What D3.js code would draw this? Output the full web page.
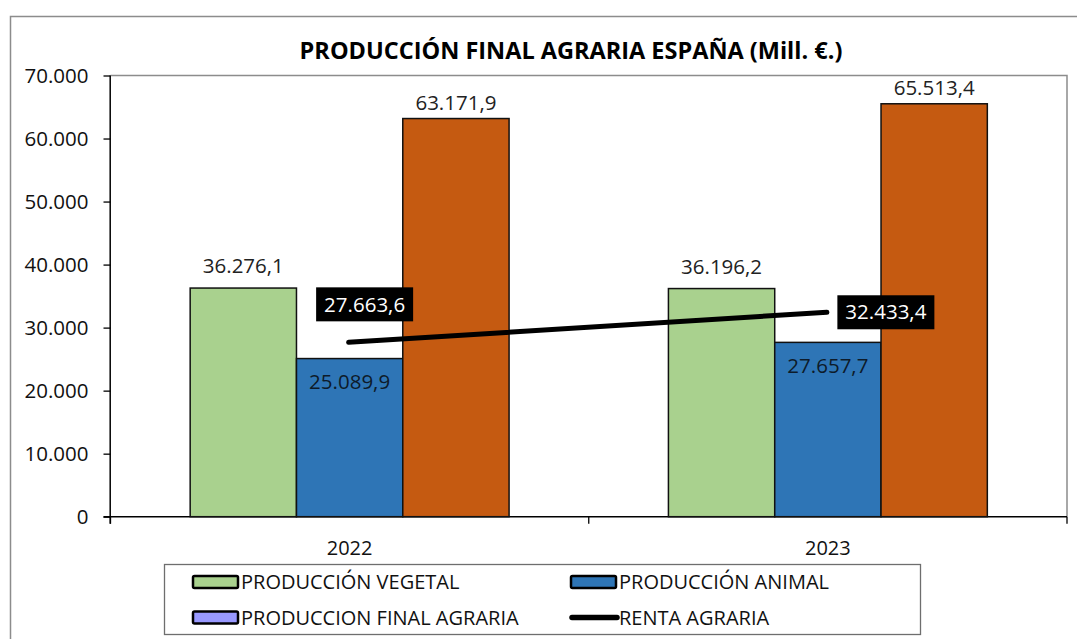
<!DOCTYPE html>
<html>
<head>
<meta charset="utf-8">
<script src="https://cdn.jsdelivr.net/npm/d3@7"></script>
<style>
  body { margin: 0; background: #fff; }
  svg { display: block; }
</style>
</head>
<body>
<div id="chart"></div>
<script>
// data
const years = ['2022', '2023'];
const seriesNames = ['PRODUCCIÓN VEGETAL', 'PRODUCCIÓN ANIMAL', 'PRODUCCION FINAL AGRARIA'];
const vegetal = [36276.1, 36196.2];
const animal = [25089.9, 27657.7];
const finalAgraria = [63171.9, 65513.4];
const renta = [27663.6, 32433.4];
const yTicks = [0, 10000, 20000, 30000, 40000, 50000, 60000, 70000];

const width = 1077, height = 639;
const margin = {top: 75.5, right: 10, bottom: 122.5, left: 110.5};
const barColors = ['#A9D18E', '#2E75B6', '#C55A11'];
const legendPFA = '#9999FF';

const fmt = v => {
  const parts = v.toFixed(1).split('.');
  return parts[0].replace(/\B(?=(\d{3})+(?!\d))/g, '.') + ',' + parts[1];
};
const fmtTick = v => String(v).replace(/\B(?=(\d{3})+(?!\d))/g, '.');

const font = '"Open Sans", "Noto Sans", sans-serif';

const svg = d3.select('#chart').append('svg')
  .attr('width', width)
  .attr('height', height);

// chart frame (outer border)
svg.append('path')
  .attr('d', `M10.5,${height} V16.5 H${width}`)
  .style('fill', 'none')
  .style('stroke', '#8c8c8c')
  .style('stroke-width', 1.5);

const x0 = d3.scaleBand()
  .domain(years)
  .range([margin.left, width - margin.right]);

const barW = 106.3;
const y = d3.scaleLinear()
  .domain([0, 70000])
  .range([height - margin.bottom + 0.2, margin.top]);

// plot area top/right edges
svg.append('path')
  .attr('d', `M${margin.left},${margin.top} H${width - margin.right} V${y(0)}`)
  .style('fill', 'none')
  .style('stroke', '#8c8c8c')
  .style('stroke-width', 1.5);

// y axis
const yAxis = d3.axisLeft(y)
  .tickValues(yTicks)
  .tickFormat(fmtTick)
  .tickSize(7)
  .tickPadding(15);

const yg = svg.append('g')
  .attr('transform', `translate(${margin.left},0)`)
  .call(yAxis);
yg.select('.domain').attr('d', `M-0.3,${y(70000)}V${y(0) + 7}`).style('stroke', '#000').style('stroke-width', 1.5);
yg.selectAll('.tick line').style('stroke', '#000').style('stroke-width', 1.3);
yg.selectAll('.tick text')
  .style('font-family', font)
  .style('font-size', '20.5px')
  .style('fill', '#111');

// x axis
const xg = svg.append('g')
  .attr('transform', `translate(0,${y(0)})`);
xg.append('line')
  .attr('x1', margin.left - 7).attr('x2', width - margin.right)
  .style('stroke', '#000')
  .style('stroke-width', 1.5);
const boundaries = [margin.left, ...years.map(d => x0(d) + x0.bandwidth())];
xg.selectAll('.xtick')
  .data(boundaries)
  .enter().append('line')
  .attr('x1', d => d).attr('x2', d => d)
  .attr('y1', 0).attr('y2', 7)
  .style('stroke', '#000')
  .style('stroke-width', 1.3);
xg.selectAll('.xlab')
  .data(years)
  .enter().append('text')
  .attr('x', d => x0(d) + x0.bandwidth() / 2)
  .attr('y', 31)
  .attr('dy', '0.35em')
  .attr('text-anchor', 'middle')
  .style('font-family', font)
  .style('font-size', '20px')
  .style('fill', '#111')
  .text(d => d);

// bars
const x1 = d3.scaleBand()
  .domain(d3.range(3))
  .range([-1.5 * barW, 1.5 * barW]);

const barData = [vegetal, animal, finalAgraria];
const groups = svg.selectAll('.grp')
  .data(years)
  .enter().append('g')
  .attr('transform', d => `translate(${x0(d) + x0.bandwidth() / 2},0)`);

groups.selectAll('rect')
  .data((d, i) => barData.map((s, k) => ({k, v: s[i]})))
  .enter().append('rect')
  .attr('x', d => x1(d.k))
  .attr('width', x1.bandwidth())
  .attr('y', d => y(d.v))
  .attr('height', d => y(0) - y(d.v))
  .style('fill', d => barColors[d.k])
  .style('stroke', '#111')
  .style('stroke-width', 1.5);

// bar value labels: vegetal / final above, animal inside end
const labelShift = [-22, 23, -16];
groups.selectAll('.vlab')
  .data((d, i) => barData.map((s, k) => ({k, v: s[i]})))
  .enter().append('text')
  .attr('x', d => x1(d.k) + x1.bandwidth() / 2)
  .attr('y', d => y(d.v) + labelShift[d.k])
  .attr('dy', '0.35em')
  .attr('text-anchor', 'middle')
  .style('font-family', font)
  .style('font-size', '20.5px')
  .style('fill', d => d.k === 1 ? '#0d1b2a' : '#222')
  .text(d => fmt(d.v));

// renta agraria line
const cx = d => x0(d) + x0.bandwidth() / 2 - 1;
const line = d3.line()
  .x((d, i) => cx(years[i]))
  .y(d => y(d));
svg.append('path')
  .datum(renta)
  .attr('d', line)
  .style('fill', 'none')
  .style('stroke', '#000')
  .style('stroke-width', 5)
  .style('stroke-linecap', 'round');

// renta labels (black boxes)
const rentaOffsets = [[16, -38], [59, 0]];
renta.forEach((v, i) => {
  const g = svg.append('g')
    .attr('transform', `translate(${cx(years[i]) + rentaOffsets[i][0]},${y(v) + rentaOffsets[i][1]})`);
  g.append('rect')
    .attr('x', -48.5).attr('y', -17)
    .attr('width', 97).attr('height', 34)
    .style('fill', '#000');
  g.append('text')
    .attr('text-anchor', 'middle')
    .attr('dy', '0.35em')
    .style('font-family', font)
    .style('font-size', '20.5px')
    .style('fill', '#fff')
    .text(fmt(v));
});

// title
svg.append('text')
  .attr('x', 571)
  .attr('y', 51)
  .attr('dy', '0.35em')
  .attr('text-anchor', 'middle')
  .style('font-family', font)
  .style('font-weight', 'bold')
  .style('font-size', '23.5px')
  .style('fill', '#000')
  .text('PRODUCCIÓN FINAL AGRARIA ESPAÑA (Mill. €.)');

// legend
const legend = svg.append('g');
legend.append('rect')
  .attr('x', 164.5).attr('y', 564.5)
  .attr('width', 756).attr('height', 70)
  .style('fill', '#fff')
  .style('stroke', '#6e6e6e')
  .style('stroke-width', 1.3);

const legendItems = [
  {name: seriesNames[0], color: barColors[0], x: 193, y: 582},
  {name: seriesNames[1], color: barColors[1], x: 571, y: 582},
  {name: seriesNames[2], color: legendPFA, x: 193, y: 617.5},
  {name: 'RENTA AGRARIA', color: null, x: 571, y: 617.5}
];
legendItems.forEach(it => {
  if (it.color) {
    legend.append('rect')
      .attr('x', it.x).attr('y', it.y - 6)
      .attr('width', 45).attr('height', 12)
      .attr('rx', 1.5)
      .style('fill', it.color)
      .style('stroke', '#000')
      .style('stroke-width', 2.5);
  } else {
    legend.append('line')
      .attr('x1', it.x + 1).attr('x2', it.x + 46)
      .attr('y1', it.y).attr('y2', it.y)
      .style('stroke', '#000')
      .style('stroke-width', 5.5)
      .style('stroke-linecap', 'round');
  }
  legend.append('text')
    .attr('x', it.x + 48)
    .attr('y', it.y)
    .attr('dy', '0.35em')
    .style('font-family', font)
    .style('font-size', '20px')
    .style('fill', '#111')
    .text(it.name);
});
</script>
</body>
</html>
